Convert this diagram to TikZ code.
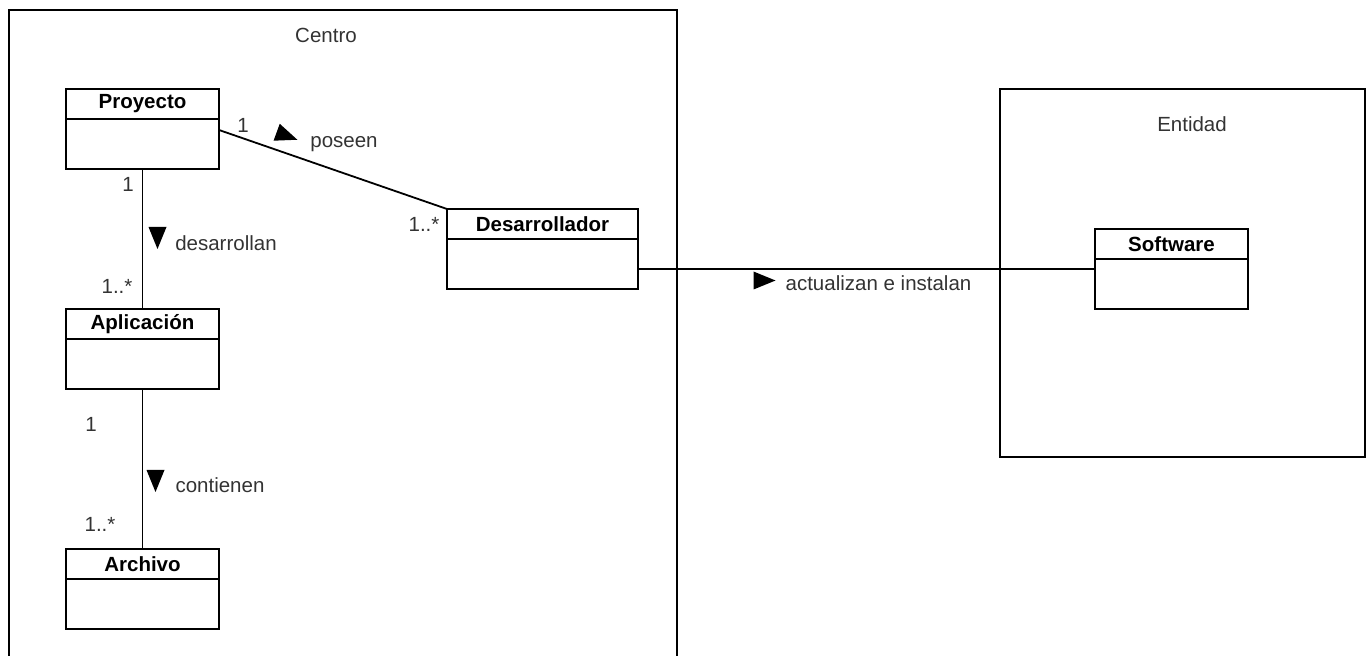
\documentclass[tikz,border=0pt]{standalone}
\usepackage{fontspec}
\setmainfont{Liberation Sans}
\usetikzlibrary{positioning}

\tikzstyle{classname} = [
    rectangle,
    minimum width=76.5pt,
    minimum height=15pt,
    inner sep=0pt,
    outer sep=0pt,
    draw=black,
    line width=0.9pt,
    font=\fontsize{10.25}{12}\selectfont\bfseries
]
\tikzstyle{classbody} = [
    rectangle,
    minimum width=76.5pt,
    minimum height=25pt,
    inner sep=0pt,
    outer sep=0pt,
    draw=black,
    line width=0.9pt
]
\tikzstyle{linktext} = [
    anchor=base,
    inner sep=0pt,
    text=black!80,
    font=\fontsize{10.25}{12}\selectfont
]
\tikzstyle{link} = [line width=0.9pt]
\tikzstyle{frame} = [line width=0.9pt]
\tikzset{
    dirmark/.pic={\fill[black] (-5.5pt,-4.5pt) -- (5.5pt,0pt) -- (-5.5pt,4.5pt) -- cycle;}
}

\begin{document}
\begin{tikzpicture}[x=0.5pt, y=-0.5pt]
\useasboundingbox (0,0) rectangle (1369,656);

% packages
\draw [frame] (9,656) -- (9,10) -- (677,10) -- (677,656);
\node (centro) [linktext] at (326,43) {Centro};
\draw [frame] (1000,89) rectangle (1365,457);
\node (entidad) [linktext] at (1192,132) {Entidad};

% classes
\node (proyecto) [classname] at (142.5,104) {Proyecto};
\node (proyectob) [classbody, below=0pt of proyecto] {};

\node (aplicacion) [classname] at (142.5,324) {Aplicación};
\node (aplicacionb) [classbody, below=0pt of aplicacion] {};

\node (archivo) [classname] at (142.5,564) {Archivo};
\node (archivob) [classbody, below=0pt of archivo] {};

\node (desarrollador) [classname, minimum width=95.5pt] at (542.5,224) {Desarrollador};
\node (desarrolladorb) [classbody, minimum width=95.5pt, below=0pt of desarrollador] {};

\node (software) [classname] at (1171.5,244) {Software};
\node (softwareb) [classbody, below=0pt of software] {};

% associations
\draw [link] ([yshift=-5.5pt]proyectob.north east) -- (desarrollador.north west);
\draw [link] (proyectob) -- (aplicacion);
\draw [link] (aplicacionb) -- (archivo);
\draw [link] ([yshift=-2.5pt]desarrolladorb.east) -- ([yshift=-2.5pt]desarrolladorb.east -| softwareb.west);

% roles and names
\node (m1) [linktext] at (243,133) {1};
\node (m2) [linktext] at (424,232) {1..*};
\pic [rotate=-20] at (287,136) {dirmark};
\node (poseen) [linktext] at (344,148) {poseen};

\node (m3) [linktext] at (128,192) {1};
\node (m4) [linktext] at (117,294) {1..*};
\pic [rotate=-90] at (157.5,238) {dirmark};
\node (desarrollan) [linktext] at (226,251) {desarrollan};

\node (m5) [linktext] at (91,432) {1};
\node (m6) [linktext] at (100,532) {1..*};
\pic [rotate=-90] at (155.5,481) {dirmark};
\node (contienen) [linktext] at (220,493) {contienen};

\pic at (764.5,280.5) {dirmark};
\node (actualizan) [linktext] at (878.5,291) {actualizan e instalan};

\end{tikzpicture}
\end{document}
